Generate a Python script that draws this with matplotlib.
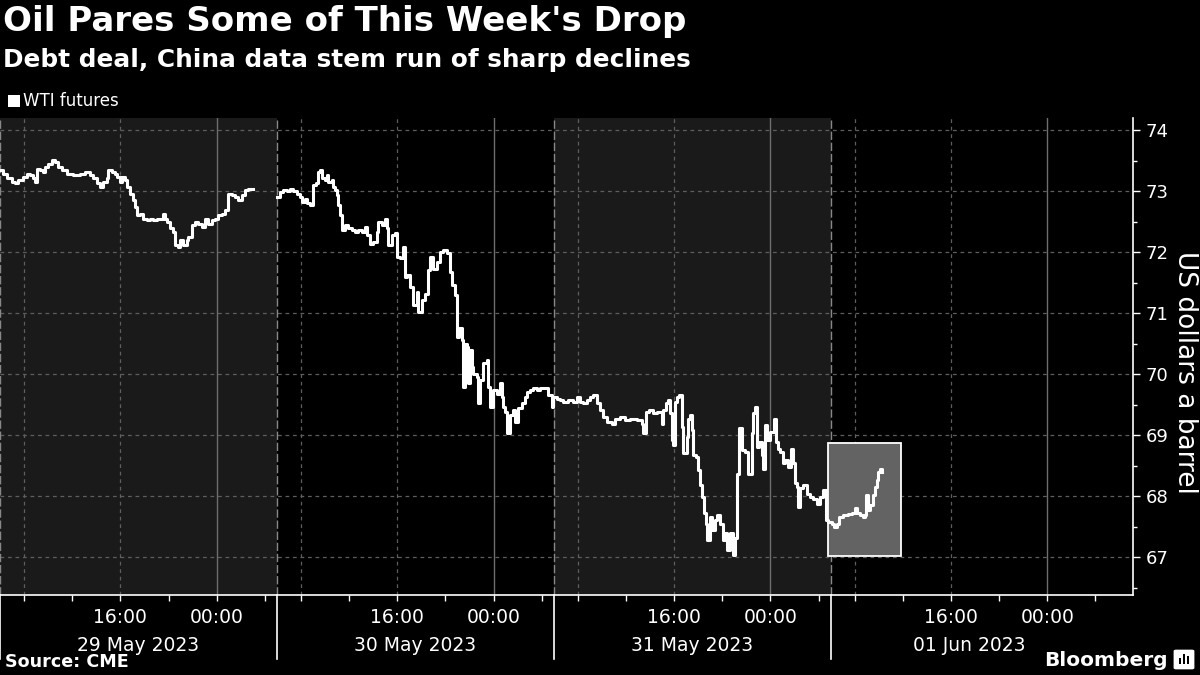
import numpy as np
import matplotlib
matplotlib.use("Agg")
import matplotlib.pyplot as plt
from matplotlib.patches import Rectangle, FancyBboxPatch
import matplotlib.transforms as mtransforms

# trading sessions are 23 hours long (06:00 -> 05:00 next day), x is in session hours
SESSION_HOURS = 23
days = ["29 May 2023", "30 May 2023", "31 May 2023", "01 Jun 2023"]
shaded_days = [0, 2]
tick_hours = [2, 6, 10, 14, 18, 22]          # 08:00 12:00 16:00 20:00 00:00 04:00
tick_names = ["", "", "16:00", "", "00:00", ""]
grid_hours = [2, 10]                          # dashed grid at 08:00 and 16:00
midnight_hour = 18

hours = [
    0.00, 0.28, 0.55, 0.97, 1.25, 1.52, 1.94, 2.21, 2.49, 2.77, 2.91, 3.05, 3.32, 3.60,
    3.74, 4.01, 4.29, 4.57, 4.84, 5.12, 5.54, 6.09, 6.64, 7.06, 7.48, 7.75, 8.03, 8.31,
    8.58, 8.86, 9.00, 9.27, 9.55, 9.69, 9.97, 10.11, 10.38, 10.52, 10.80, 11.07, 11.21,
    11.35, 11.63, 11.90, 12.18, 12.46, 12.74, 13.01, 13.29, 13.57, 13.70, 13.84, 14.12,
    14.40, 14.53, 14.81, 14.95, 15.23, 15.50, 15.64, 15.92, 16.20, 16.47, 16.75, 17.03,
    17.30, 17.58, 17.86, 18.13, 18.41, 18.69, 18.96, 19.24, 19.52, 19.80, 20.07, 20.35,
    20.63, 20.70,
    # holiday gap, then 30 May
    21.0,
    23.03, 23.26, 23.53, 23.81, 24.09, 24.36, 24.64, 24.92, 25.06, 25.33, 25.47, 25.75,
    25.97, 26.02, 26.25, 26.44, 26.58, 26.72, 26.99, 27.13, 27.27, 27.55, 27.69, 27.82,
    27.96, 28.10, 28.24, 28.38, 28.65, 28.93, 29.21, 29.49, 29.76, 30.04, 30.32, 30.45,
    30.73, 31.01, 31.28, 31.42, 31.70, 31.98, 32.12, 32.25, 32.53, 32.81, 32.95, 33.22,
    33.50, 33.64, 33.78, 34.05, 34.33, 34.61, 34.75, 35.02, 35.30, 35.58, 35.71, 35.99,
    36.27, 36.54, 36.82, 37.10, 37.38, 37.51, 37.79,
    37.93, 38.15, 38.35, 38.48, 38.62, 38.76, 38.90, 39.04, 39.18, 39.31, 39.59, 39.73,
    39.87, 40.14, 40.42, 40.56, 40.70, 40.97, 41.25, 41.53, 41.67, 41.80, 41.94, 42.14,
    42.36, 42.58, 42.77, 43.05, 43.33, 43.60, 43.74, 44.02, 44.30, 44.57, 44.85, 45.27,
    45.54, 45.82, 45.96, 46.24, 46.51, 46.79, 47.21, 47.62, 47.90, 48.17, 48.45, 48.73,
    49.00, 49.28, 49.56, 49.83, 50.11, 50.39, 50.80, 51.08, 51.50, 51.91, 52.33, 52.88,
    53.30, 53.43,
    53.65, 53.93, 54.26, 54.54, 54.96, 55.09, 55.32, 55.51, 55.65, 55.79, 55.92, 56.06,
    56.26, 56.42, 56.62, 56.75, 57.03, 57.17, 57.31, 57.45, 57.59, 57.81, 58.00, 58.14,
    58.28, 58.47, 58.64, 58.75, 58.97, 59.11, 59.39, 59.58, 59.80, 60.02, 60.22, 60.41,
    60.63, 60.85, 61.05, 61.18, 61.41, 61.60, 61.88, 62.16, 62.43, 62.57, 62.71, 62.85,
    63.07, 63.26, 63.40, 63.54, 63.68, 63.95, 64.17, 64.29, 64.45, 64.65, 64.78, 65.01,
    65.20, 65.48, 65.67, 65.84, 66.03, 66.17, 66.31, 66.45, 66.72, 67.00, 67.28, 67.55,
    67.83, 68.11,
    68.33, 68.52, 68.60, 68.80, 69.08, 69.27, 69.49, 69.71, 70.04, 70.46, 70.74, 71.01,
    71.15, 71.43, 71.71, 71.84, 71.93, 72.12, 72.31, 72.48, 72.67, 72.81, 72.95, 73.09,
    73.23,
]
wti = [
    73.34, 73.29, 73.21, 73.15, 73.13, 73.18, 73.23, 73.29, 73.26, 73.21, 73.15, 73.37, 73.34, 73.32,
    73.40, 73.45, 73.51, 73.48, 73.40, 73.34, 73.29, 73.27, 73.29, 73.32, 73.27, 73.21, 73.13, 73.07,
    73.15, 73.21, 73.34, 73.32, 73.29, 73.23, 73.15, 73.23, 73.18, 73.07, 72.96, 72.85, 72.74,
    72.61, 72.63, 72.55, 72.52, 72.55, 72.52, 72.54, 72.55, 72.63, 72.55, 72.50, 72.39,
    72.33, 72.11, 72.09, 72.20, 72.11, 72.20, 72.25, 72.44, 72.50, 72.47, 72.42, 72.55,
    72.47, 72.52, 72.55, 72.61, 72.63, 72.69, 72.96, 72.93, 72.91, 72.85, 72.93, 73.02,
    73.03, 73.03,
    np.nan,
    72.91, 72.99, 73.02, 73.01, 73.03, 73.01, 72.96, 72.91, 72.82, 72.88, 72.80, 72.77,
    72.77, 73.10, 73.13, 73.32, 73.34, 73.21, 73.18, 73.26, 73.15, 73.18, 73.07, 73.02,
    72.93, 72.77, 72.61, 72.36, 72.44, 72.39, 72.36, 72.33, 72.36, 72.33, 72.41, 72.28,
    72.14, 72.17, 72.33, 72.50, 72.44, 72.55, 72.39, 72.11, 72.28, 72.31, 71.92, 71.90,
    72.09, 71.60, 71.62, 71.43, 71.13, 71.35, 71.02, 71.21, 71.32, 71.70, 71.92, 71.73,
    71.84, 72.00, 72.03, 71.98, 71.68, 71.46, 71.30,
    70.61, 70.75, 70.56, 69.79, 70.50, 70.45, 69.85, 70.39, 70.12, 70.01, 69.96, 69.52,
    69.90, 70.18, 70.23, 69.79, 69.46, 69.74, 69.68, 69.85, 69.63, 69.46, 69.38, 69.03,
    69.33, 69.41, 69.22, 69.44, 69.52, 69.63, 69.71, 69.74, 69.77, 69.74, 69.77, 69.78,
    69.66, 69.46, 69.63, 69.60, 69.57, 69.55, 69.57, 69.55, 69.63, 69.55, 69.52, 69.57,
    69.63, 69.66, 69.52, 69.41, 69.30, 69.22, 69.19, 69.27, 69.30, 69.25, 69.27, 69.25,
    69.19, 69.03,
    69.38, 69.41, 69.36, 69.38, 69.19, 69.41, 69.52, 69.57, 69.36, 68.92, 68.84, 69.55,
    69.63, 69.66, 69.14, 68.70, 68.97, 69.27, 69.33, 69.08, 68.67, 68.64, 68.43, 68.18,
    67.99, 67.72, 67.55, 67.28, 67.66, 67.44, 67.61, 67.69, 67.55, 67.28, 67.39, 67.11,
    67.39, 67.03, 67.31, 68.37, 69.11, 68.75, 68.73, 68.37, 69.03, 69.36, 69.46, 68.81,
    68.89, 68.67, 68.45, 69.16, 68.92, 69.05, 69.05, 69.27, 68.89, 68.78, 68.73, 68.54,
    68.59, 68.48, 68.78, 68.54, 68.21, 68.15, 67.82, 68.13, 68.18, 68.04, 67.99, 67.96,
    67.88, 67.99,
    68.10, 68.10, 67.61, 67.58, 67.55, 67.50, 67.55, 67.66, 67.69, 67.70, 67.72, 67.80,
    67.72, 67.69, 67.66, 67.69, 68.02, 67.77, 67.85, 68.02, 68.15, 68.26, 68.40, 68.45,
    68.40,
]

# highlighted box: hours and price range
box_hours = (68.80, 74.86)
box_prices = (67.02, 68.88)

BG = "#000000"
BAND = "#1a1a1a"

fig = plt.figure(figsize=(12, 6.75), dpi=100, facecolor=BG)
ax = fig.add_axes([0.0, 0.1185, 0.944, 0.7067])
ax.set_facecolor(BG)
ax.set_xlim(0, 94.1)
ax.set_ylim(66.38, 74.2)

for d in shaded_days:
    ax.axvspan(d * SESSION_HOURS, (d + 1) * SESSION_HOURS, color=BAND, lw=0, zorder=0)

for y in range(67, 75):
    ax.axhline(y, color="#5e5e5e", lw=0.9, ls=(0, (3, 3)), zorder=1)
for d in range(len(days)):
    base = d * SESSION_HOURS
    for g in grid_hours:
        ax.axvline(base + g, color="#5e5e5e", lw=0.9, ls=(0, (3, 3)), zorder=1)
    ax.axvline(base + midnight_hour, color="#6e6e6e", lw=1.0, zorder=1)
    ax.axvline(base, color="#888888", lw=1.0, ls=(0, (6, 2)), zorder=1)

ax.add_patch(Rectangle((box_hours[0], box_prices[0]), box_hours[1] - box_hours[0],
                       box_prices[1] - box_prices[0], facecolor="#636363",
                       edgecolor="white", lw=1.3, zorder=2))

ax.plot(hours, wti, color="white", lw=2.2, drawstyle="steps-post", zorder=3)

for s in ["top", "left"]:
    ax.spines[s].set_visible(False)
for s in ["right", "bottom"]:
    ax.spines[s].set_color("white")
    ax.spines[s].set_linewidth(1.2)

ax.yaxis.tick_right()
ax.set_yticks(range(67, 75))
ax.set_yticks(np.arange(66.5, 74.5, 1.0), minor=True)
ax.tick_params(axis="y", colors="white", labelsize=13, length=5, width=1, pad=4)
ax.tick_params(axis="y", which="minor", colors="white", length=3, width=1)

xt, xl = [], []
for d in range(len(days)):
    for h, name in zip(tick_hours, tick_names):
        xt.append(d * SESSION_HOURS + h)
        xl.append(name)
ax.set_xticks(xt)
ax.set_xticklabels(xl)
ax.tick_params(axis="x", colors="white", labelsize=13.5, length=4, width=1, pad=5)

trans = mtransforms.blended_transform_factory(ax.transData, ax.transAxes)
for d, name in enumerate(days):
    ax.text(d * SESSION_HOURS + SESSION_HOURS / 2, -0.105, name, transform=trans,
            color="white", fontsize=13.5, ha="center", va="center")
    ax.plot([d * SESSION_HOURS] * 2, [0, -0.135], transform=trans, color="white",
            lw=1.2, clip_on=False)

fig.text(1185 / 1200, 1 - 372 / 675, "US dollars a barrel", color="white", fontsize=19,
         rotation=270, ha="center", va="center")

fig.text(3 / 1200, 1 - 22 / 675, "Oil Pares Some of This Week's Drop", color="white",
         fontsize=24.5, fontweight="bold", ha="left", va="center")
fig.text(3 / 1200, 1 - 60 / 675, "Debt deal, China data stem run of sharp declines",
         color="white", fontsize=17.8, fontweight="bold", ha="left", va="center")

fig.patches.append(Rectangle((8 / 1200, 1 - 107 / 675), 12 / 1200, 12 / 675,
                             transform=fig.transFigure, facecolor="white", lw=0))
fig.text(23 / 1200, 1 - 101 / 675, "WTI futures", color="white", fontsize=12,
         ha="left", va="center")

fig.text(5 / 1200, 1 - 662 / 675, "Source: CME", color="white", fontsize=12.6,
         fontweight="bold", ha="left", va="center")
fig.text(1168 / 1200, 1 - 660 / 675, "Bloomberg", color="white", fontsize=14.5,
         fontweight="bold", ha="right", va="center")
fig.patches.append(FancyBboxPatch((1176 / 1200, 1 - 668 / 675), 16 / 1200, 17 / 675,
                                  boxstyle="round,pad=0.002", transform=fig.transFigure,
                                  facecolor="white", lw=0))
for i, hgt in enumerate([6, 10, 8]):
    fig.patches.append(Rectangle(((1179 + i * 4) / 1200, 1 - 664 / 675), 2 / 1200,
                                 hgt / 675, transform=fig.transFigure,
                                 facecolor="black", lw=0))

fig.savefig("out.png", dpi=100, facecolor=BG)
